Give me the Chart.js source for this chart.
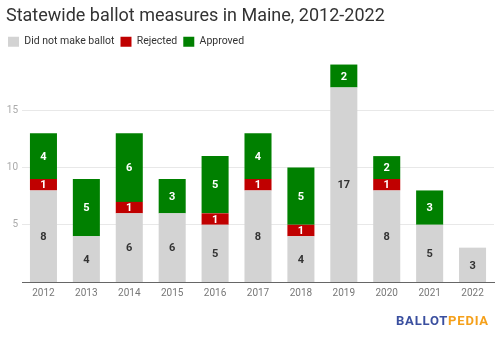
<!DOCTYPE html>
<html>
<head>
<meta charset="utf-8">
<script src="https://cdn.jsdelivr.net/npm/chart.js@4"></script>
<style>
  body { margin: 0; background: #fff; }
  #wrap { position: relative; width: 500px; height: 339px; }
  #logo { position: absolute; left: 396px; top: 313px; font: bold 13px Roboto, sans-serif; letter-spacing: 0.8px; }
  #logo .b { color: #3a4f9f; }
  #logo .p { color: #f5a01a; }
</style>
</head>
<body>
<div id="wrap">
  <canvas id="chart" width="500" height="339"></canvas>
  <div id="logo"><span class="b">BALLOT</span><span class="p">PEDIA</span></div>
</div>
<script>
var years = ["2012", "2013", "2014", "2015", "2016", "2017", "2018", "2019", "2020", "2021", "2022"];
var didNotMake = [8, 4, 6, 6, 5, 8, 4, 17, 8, 5, 3];
var rejected = [1, 0, 1, 0, 1, 1, 1, 0, 1, 0, 0];
var approved = [4, 5, 6, 3, 5, 4, 5, 2, 2, 3, 0];
var yTicks = [5, 10, 15];

// draws the numbers inside each bar segment
var segmentLabels = {
	id: "segmentLabels",
	afterDatasetsDraw: function(chart) {
		var ctx = chart.ctx;
		ctx.save();
		ctx.font = "bold 11px Roboto, sans-serif";
		ctx.textAlign = "center";
		ctx.textBaseline = "middle";
		chart.data.datasets.forEach(function(ds, i) {
			var meta = chart.getDatasetMeta(i);
			meta.data.forEach(function(bar, j) {
				var v = ds.data[j];
				if (!v) return;
				ctx.fillStyle = ds.labelColor;
				ctx.fillText(v, bar.x, (bar.y + bar.base) / 2 + 1);
			});
		});
		ctx.restore();
	}
};

// legend a bit shorter and further left than the defaults allow
var legendTweak = {
	id: "legendTweak",
	beforeInit: function(chart) {
		var fit = chart.legend.fit;
		chart.legend.fit = function() {
			fit.call(this);
			this.height -= 4;
		};
	},
	beforeDraw: function(chart) {
		chart.legend.left = 2;
	}
};

new Chart("chart", {
	type: "bar",
	data: {
		labels: years,
		datasets: [
			{ label: "Did not make ballot", data: didNotMake, backgroundColor: "#d3d3d3", labelColor: "#333" },
			{ label: "Rejected", data: rejected, backgroundColor: "#c00000", labelColor: "#fff" },
			{ label: "Approved", data: approved, backgroundColor: "#008000", labelColor: "#fff" }
		]
	},
	options: {
		responsive: false,
		animation: false,
		layout: { padding: { left: 6, right: 6, top: 0, bottom: 37 } },
		datasets: { bar: { barPercentage: 0.63, categoryPercentage: 1 } },
		plugins: {
			tooltip: { enabled: false },
			title: {
				display: true,
				text: "Statewide ballot measures in Maine, 2012-2022",
				align: "start",
				color: "#333",
				font: { family: "Roboto", size: 18, weight: "normal" },
				padding: { top: 6, bottom: 3 }
			},
			legend: {
				align: "start",
				labels: {
					boxWidth: 11,
					boxHeight: 10,
					padding: 6,
					color: "#333",
					font: { family: "Roboto", size: 10.5 }
				}
			}
		},
		scales: {
			x: {
				stacked: true,
				grid: { display: false, drawTicks: false },
				border: { color: "#666" },
				ticks: { color: "#777", font: { family: "Roboto", size: 10 }, padding: 5 },
				afterFit: function(s) { s.height = 20; }
			},
			y: {
				stacked: true,
				min: 0,
				max: 20,
				border: { display: false },
				grid: {
					drawTicks: false,
					color: function(c) { return yTicks.indexOf(c.tick.value) >= 0 ? "#e8e8e8" : "rgba(0,0,0,0)"; }
				},
				afterBuildTicks: function(s) { s.ticks = yTicks.map(function(v) { return { value: v }; }); },
				ticks: { color: "#aaa", font: { family: "Roboto", size: 10 }, padding: 4 },
				afterFit: function(s) { s.width = 16; }
			}
		}
	},
	plugins: [segmentLabels, legendTweak]
});
</script>
</body>
</html>
